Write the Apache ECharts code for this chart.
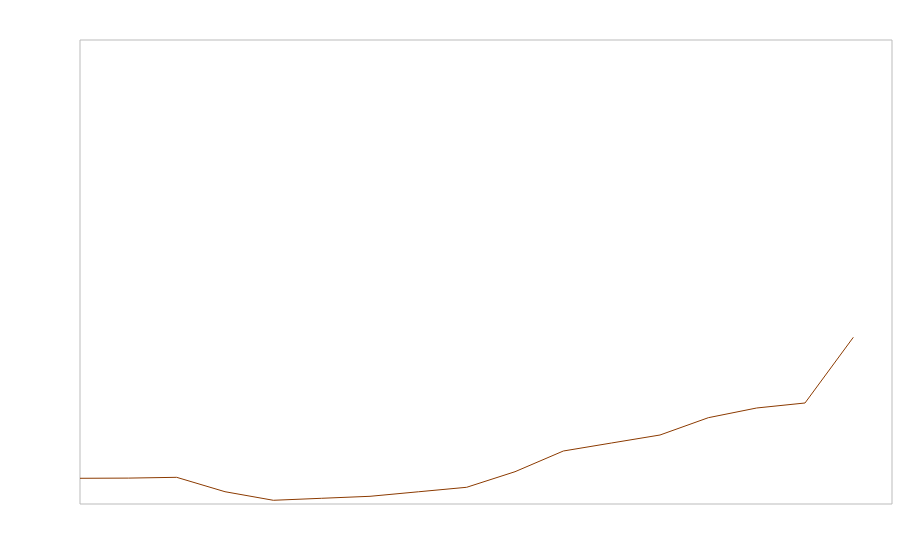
<!DOCTYPE html>
<html>
<head>
<meta charset="utf-8">
<script src="https://cdn.jsdelivr.net/npm/echarts@6/dist/echarts.min.js"></script>
<style>html,body{margin:0;padding:0;background:#fff;}#c{width:900px;height:560px;}</style>
</head>
<body>
<div id="c"></div>
<script>
var xs = [0,1,2,3,4,5,6,7,8,9,10,11,12,13,14,15,16];
var values = [5.54,5.58,5.75,2.65,0.80,1.23,1.66,2.63,3.60,6.96,11.42,13.15,14.87,18.60,20.69,21.77,35.93];
var chart = echarts.init(document.getElementById('c'), null, {renderer:'canvas'});
chart.setOption({
  animation:false,
  grid:{left:80, top:40, right:8, bottom:56, show:true, borderColor:'#bbbbbb', borderWidth:1, backgroundColor:'transparent'},
  xAxis:{type:'value', min:0, max:16.8, show:false},
  yAxis:{type:'value', min:0, max:100, show:false},
  series:[{type:'line', data:xs.map(function(x,i){return [x, values[i]];}), showSymbol:false, symbol:'none',
    lineStyle:{color:'#8b3a00', width:1}, itemStyle:{color:'#8b3a00'}}]
});
</script>
</body>
</html>
